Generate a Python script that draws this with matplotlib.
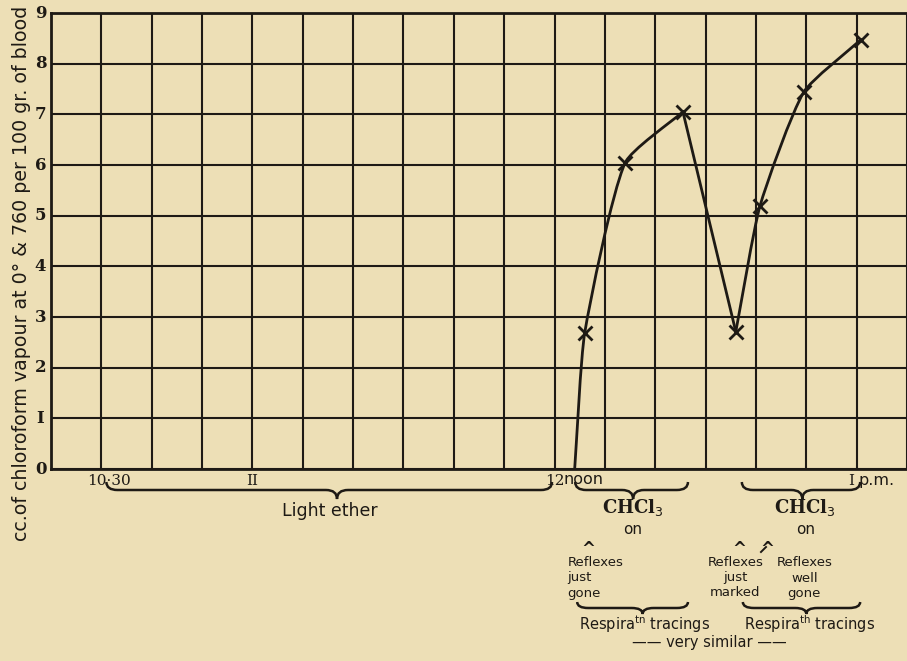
import numpy as np
import matplotlib
matplotlib.use("Agg")
import matplotlib.pyplot as plt
from matplotlib.path import Path
from matplotlib.patches import PathPatch
import matplotlib.transforms as mtransforms

# ---------------- data (minutes after 10:00, cc of chloroform vapour) ----------------
rise1_t = [124.0, 126.0, 134.0, 145.5]
rise1_v = [0.0, 2.69, 6.04, 7.05]
fall_t = [145.5, 156.0]
fall_v = [7.05, 2.71]
rise2_t = [156.0, 160.8, 169.5, 180.8]
rise2_v = [2.71, 5.19, 7.44, 8.47]
marker_t = [126.0, 134.0, 145.5, 156.0, 160.8, 169.5, 180.8]
marker_v = [2.69, 6.04, 7.05, 2.71, 5.19, 7.44, 8.47]

xtick_pos = [30, 60, 120, 180]
xtick_labels = ["10·30", "II", "12", "I"]
ytick_pos = list(range(0, 10))
ytick_labels = ["0", "I", "2", "3", "4", "5", "6", "7", "8", "9"]

BG = "#EDDFB6"
INK = "#1E1A15"
W, H = 907, 661

fig = plt.figure(figsize=(W / 100, H / 100), dpi=100, facecolor=BG)
ax = fig.add_axes([51 / W, 192 / H, 856 / W, 456 / H])
ax.set_facecolor(BG)
ax.set_xlim(20, 190)
ax.set_ylim(0, 9)

# grid
ax.set_xticks(np.arange(20, 191, 10))
ax.set_yticks(ytick_pos)
ax.grid(True, color=INK, linewidth=1.5)
ax.tick_params(length=0, labelbottom=False, labelleft=False)
for s in ["left", "bottom", "top"]:
    ax.spines[s].set_color(INK)
    ax.spines[s].set_linewidth(2)
ax.spines["right"].set_visible(False)

# y tick labels
for p, lab in zip(ytick_pos, ytick_labels):
    ax.annotate(lab, xy=(0, p), xycoords=("axes fraction", "data"),
                xytext=(-7.5, 0), textcoords="offset points", ha="center", va="center",
                fontsize=12, fontweight="bold", family="DejaVu Serif", color=INK)

tr_x = mtransforms.blended_transform_factory(ax.transData, fig.transFigure)
def fy(py):
    return 1 - py / H

# x tick labels
ax.text(31.5, fy(481), xtick_labels[0], transform=tr_x, ha="center", va="center",
        fontsize=11, family="DejaVu Serif", color=INK, clip_on=False)
ax.text(60, fy(481), xtick_labels[1], transform=tr_x, ha="center", va="center",
        fontsize=11, family="DejaVu Serif", color=INK, clip_on=False)
ax.text(120, fy(481), xtick_labels[2], transform=tr_x, ha="center", va="center",
        fontsize=11, family="DejaVu Serif", color=INK, clip_on=False)
ax.text(121.7, fy(480), "noon", transform=tr_x, ha="left", va="center",
        fontsize=11.5, color=INK, clip_on=False)
ax.text(179.6, fy(481), xtick_labels[3], transform=tr_x, ha="right", va="center",
        fontsize=11, family="DejaVu Serif", color=INK, clip_on=False)
ax.text(180.3, fy(481), "p.m.", transform=tr_x, ha="left", va="center",
        fontsize=11.5, color=INK, clip_on=False)

# y label
fig.text(22 / W, fy(273), "cc.of chloroform vapour at 0° & 760 per 100 gr. of blood",
         rotation=90, ha="center", va="center", fontsize=13.7, color=INK)

# ---------------- curves (smooth Bezier through the readings) ----------------
PX_X = 856 / 170.0   # pixels per minute
PX_Y = 456 / 9.0     # pixels per unit
TENSION = 0.55

def spline_path(xs, ys):
    P = np.column_stack([np.asarray(xs) * PX_X, np.asarray(ys) * PX_Y])
    n = len(P)
    seg = np.diff(P, axis=0)
    L = np.linalg.norm(seg, axis=1)
    tang = np.zeros_like(P)
    tang[0] = seg[0] / L[0]
    tang[-1] = seg[-1] / L[-1]
    for i in range(1, n - 1):
        b = P[i + 1] - P[i - 1]
        tang[i] = b / np.linalg.norm(b)
    verts = [P[0]]
    codes = [Path.MOVETO]
    for i in range(n - 1):
        h = TENSION * L[i] / 3
        verts += [P[i] + tang[i] * h, P[i + 1] - tang[i + 1] * h, P[i + 1]]
        codes += [Path.CURVE4] * 3
    V = np.array(verts)
    V[:, 0] /= PX_X
    V[:, 1] /= PX_Y
    return Path(V, codes)

for xs, ys in [(rise1_t, rise1_v), (rise2_t, rise2_v)]:
    ax.add_patch(PathPatch(spline_path(xs, ys), facecolor="none", edgecolor=INK,
                           linewidth=2, zorder=5))
ax.plot(fall_t, fall_v, color=INK, linewidth=2, zorder=5)
ax.plot(marker_t, marker_v, linestyle="none", marker="x", markersize=10,
        markeredgewidth=2, color=INK, zorder=6)

# ---------------- braces ----------------
def brace(x0, x1, xt, py, up=8, down=9, d=2.2):
    y0 = fy(py)
    yu = fy(py - up)
    yd = fy(py + down)
    verts = [(x0, yu), (x0, y0), (x0 + d, y0),
             (xt - d, y0), (xt, y0), (xt, yd),
             (xt, y0), (xt + d, y0),
             (x1 - d, y0), (x1, y0), (x1, yu)]
    codes = [Path.MOVETO, Path.CURVE3, Path.CURVE3,
             Path.LINETO, Path.CURVE3, Path.CURVE3,
             Path.CURVE3, Path.CURVE3,
             Path.LINETO, Path.CURVE3, Path.CURVE3]
    fig.add_artist(PathPatch(Path(verts, codes), transform=tr_x, facecolor="none",
                             edgecolor=INK, linewidth=1.8, clip_on=False))

brace(31.0, 119.5, 76.8, 490)
brace(124.1, 146.5, 135.6, 490)
brace(157.2, 180.7, 169.2, 490)
brace(124.5, 146.5, 137.5, 608, up=6, down=6)
brace(157.4, 180.7, 170.0, 608, up=6, down=6)

def txt(x, py, s, **kw):
    kw.setdefault("fontsize", 10)
    kw.setdefault("color", INK)
    kw.setdefault("ha", "center")
    kw.setdefault("va", "center")
    ax.text(x, fy(py), s, transform=tr_x, clip_on=False, **kw)

txt(75.4, 511, "Light ether", fontsize=12.5)
for xc in (135.6, 169.8):
    txt(xc, 507, r"CHCl$_3$", fontsize=13, fontweight="bold", family="DejaVu Serif")
    txt(xc, 530, "on", fontsize=11)

txt(126.7, 549, "^", fontsize=12, fontweight="bold")
txt(122.6, 578, "Reflexes\njust\ngone", ha="left", fontsize=9.5, linespacing=1.2)
txt(156.6, 549, "^", fontsize=12, fontweight="bold")
txt(155.9, 578, "Reflexes\njust\nmarked", fontsize=9.5, linespacing=1.2)
txt(162.2, 549, "^", fontsize=12, fontweight="bold")
ax.plot([161.0, 162.0], [fy(552), fy(547)], transform=tr_x, color=INK, lw=1.4, clip_on=False)
txt(169.6, 578, "Reflexes\nwell\ngone", fontsize=9.5, linespacing=1.2)

txt(137.8, 624, r"Respira$^{\rm tn}$ tracings", fontsize=10.5)
txt(170.7, 624, r"Respira$^{\rm th}$ tracings", fontsize=10.5)
txt(150.8, 643, "—— very similar ——", fontsize=10.5)

fig.savefig("out.png", dpi=100, facecolor=BG)
